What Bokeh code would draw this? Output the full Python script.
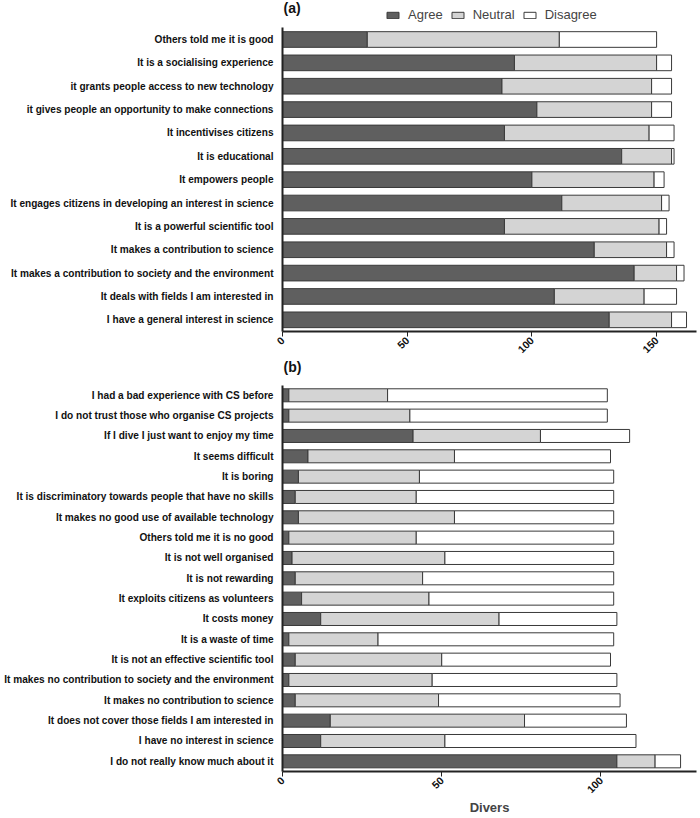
import math
from bokeh.plotting import figure
from bokeh.models import ColumnDataSource, Range1d, FixedTicker, Label
from bokeh.layouts import column
from bokeh.embed import file_html
from bokeh.resources import INLINE

# ---------------- data (panel a: motivations) ----------------
cats_a = [
    "Others told me it is good",
    "It is a socialising experience",
    "it grants people access to new technology",
    "it gives people an opportunity to make connections",
    "It incentivises citizens",
    "It is educational",
    "It empowers people",
    "It engages citizens in developing an interest in science",
    "It is a powerful scientific tool",
    "It makes a contribution to science",
    "It makes a contribution to society and the environment",
    "It deals with fields I am interested in",
    "I have a general interest in science",
]
agree_a = [34, 93, 88, 102, 89, 136, 100, 112, 89, 125, 141, 109, 131]
neutral_a = [77, 57, 60, 46, 58, 20, 49, 40, 62, 29, 17, 36, 25]
disagree_a = [39, 6, 8, 8, 10, 1, 4, 3, 3, 3, 3, 13, 6]

# ---------------- data (panel b: barriers) ----------------
cats_b = [
    "I had a bad experience with CS before",
    "I do not trust those who organise CS projects",
    "If I dive I just want to enjoy my time",
    "It seems difficult",
    "It is boring",
    "It is discriminatory towards people that have no skills",
    "It makes no good use of available technology",
    "Others told me it is no good",
    "It is not well organised",
    "It is not rewarding",
    "It exploits citizens as volunteers",
    "It costs money",
    "It is a waste of time",
    "It is not an effective scientific tool",
    "It makes no contribution to society and the environment",
    "It makes no contribution to science",
    "It does not cover those fields I am interested in",
    "I have no interest in science",
    "I do not really know much about it",
]
agree_b = [2, 2, 41, 8, 5, 4, 5, 2, 3, 4, 6, 12, 2, 4, 2, 4, 15, 12, 105]
neutral_b = [31, 38, 40, 46, 38, 38, 49, 40, 48, 40, 40, 56, 28, 46, 45, 45, 61, 39, 12]
disagree_b = [69, 62, 28, 49, 61, 62, 50, 62, 53, 60, 58, 37, 74, 53, 58, 57, 32, 60, 8]

series = ["Agree", "Neutral", "Disagree"]
fills = ["#5f5f5f", "#d4d4d4", "#ffffff"]
ticks_a = [0, 50, 100, 150]
ticks_b = [0, 50, 100]
xmax_a = 166
xmax_b = 130

FONT = "Liberation Sans"
W = 698
LEFT = 282


def panel(cats, ag, ne, di, xmax, ticks, height, bottom, extra, bar_h, xlabel, tag):
    n = len(cats)
    pos = [n - 1 - i for i in range(n)]
    src = ColumnDataSource(dict(y=pos, cat=cats, Agree=ag, Neutral=ne, Disagree=di))
    p = figure(width=W, height=height, y_range=Range1d(-0.5, n - 0.5 + extra),
               x_range=Range1d(0, xmax), output_backend="svg", toolbar_location=None,
               min_border_left=LEFT, min_border_right=2, min_border_top=0,
               min_border_bottom=bottom)
    p.hbar_stack(series, y="y", height=bar_h, fill_color=fills,
                 line_color="#3a3a3a", line_width=1, source=src,
                 legend_label=series)
    p.outline_line_color = None
    p.xgrid.visible = False
    p.ygrid.visible = False

    xa = p.xaxis[0]
    xa.ticker = FixedTicker(ticks=ticks)
    xa.minor_tick_line_color = None
    xa.major_tick_in = 0
    xa.major_tick_out = 5
    xa.axis_line_width = 2
    xa.axis_line_color = "#222222"
    xa.major_tick_line_color = "#222222"
    xa.major_label_orientation = math.pi / 4
    xa.major_label_text_font = FONT
    xa.major_label_text_font_style = "bold"
    xa.major_label_text_font_size = "10.5px"
    xa.major_label_text_color = "#111111"
    xa.major_label_standoff = 2
    if xlabel:
        xa.axis_label = xlabel
        xa.axis_label_text_font = FONT
        xa.axis_label_text_font_style = "bold"
        xa.axis_label_text_font_size = "13px"
        xa.axis_label_standoff = 0

    ya = p.yaxis[0]
    ya.ticker = FixedTicker(ticks=pos)
    ya.major_label_overrides = {y: c for y, c in zip(pos, cats)}
    ya.bounds = (-0.5, n - 0.5)
    ya.axis_line_width = 2
    ya.axis_line_color = "#222222"
    ya.major_tick_line_color = None
    ya.minor_tick_line_color = None
    ya.major_label_text_font = FONT
    ya.major_label_text_font_style = "bold"
    ya.major_label_text_font_size = "10.1px"
    ya.major_label_text_color = "#111111"
    ya.major_label_standoff = 3

    p.add_layout(Label(x=0, y=n - 0.5 + extra, x_offset=1, y_offset=1, text=tag,
                       text_baseline="top", text_font=FONT, text_font_size="14px",
                       text_font_style="bold", text_color="#111111"))
    return p


# ----- panel (a) -----
HA = 359
pa = panel(cats_a, agree_a, neutral_a, disagree_a, xmax_a, ticks_a,
           HA, HA - 331, 1.17, 0.67, None, "(a)")
lg = pa.legend[0]
lg.orientation = "horizontal"
lg.location = (103, 331 - 22)
lg.border_line_color = None
lg.background_fill_alpha = 0
lg.label_text_font = FONT
lg.label_text_font_size = "13px"
lg.label_height = 13
lg.glyph_width = 15
lg.glyph_height = 8
lg.label_standoff = 8
lg.spacing = 7
lg.padding = 0
lg.margin = 0

# ----- panel (b) -----
HB = 817 - HA
pb = panel(cats_b, agree_b, neutral_b, disagree_b, xmax_b, ticks_b,
           HB, 40, 1.26, 0.64, "Divers", "(b)")
pb.legend[0].visible = False

layout = column(pa, pb, spacing=0)
open("out.html", "w").write(file_html(layout, INLINE))
